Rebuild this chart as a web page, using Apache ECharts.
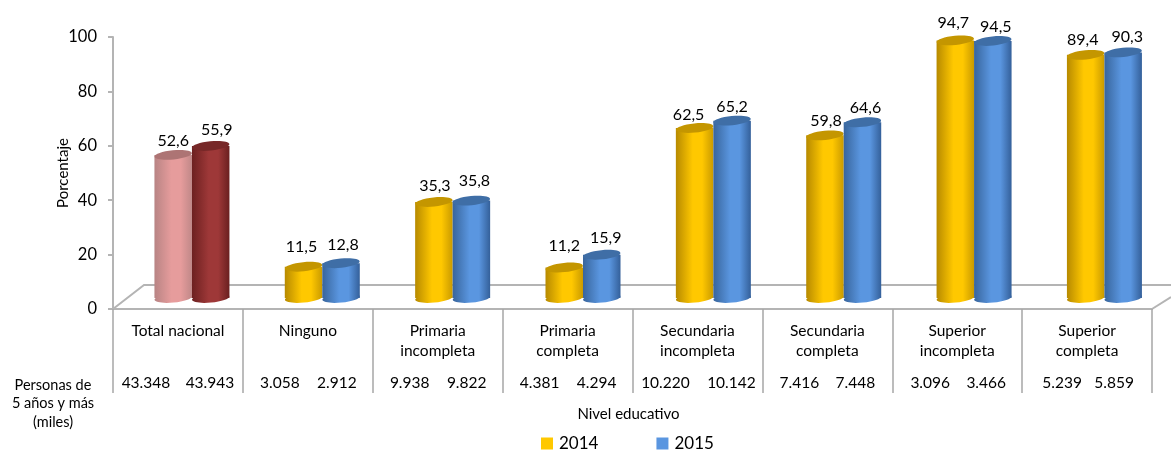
<!DOCTYPE html>
<html>
<head>
<meta charset="utf-8">
<style>html,body{margin:0;background:#fff}#chart{width:1171px;height:452px}</style>
<script src="https://cdn.jsdelivr.net/npm/echarts@6/dist/echarts.min.js"></script>
</head>
<body>
<div id="chart"></div>
<script>
const categories = ['Total nacional', 'Ninguno', 'Primaria\nincompleta', 'Primaria\ncompleta',
  'Secundaria\nincompleta', 'Secundaria\ncompleta', 'Superior\nincompleta', 'Superior\ncompleta'];
const pct2014 = [52.6, 11.5, 35.3, 11.2, 62.5, 59.8, 94.7, 89.4];
const pct2015 = [55.9, 12.8, 35.8, 15.9, 65.2, 64.6, 94.5, 90.3];
const personas2014 = ['43.348', '3.058', '9.938', '4.381', '10.220', '7.416', '3.096', '5.239'];
const personas2015 = ['43.943', '2.912', '9.822', '4.294', '10.142', '7.448', '3.466', '5.859'];

const FONT = 'Lato';
// Cylinder shading per bar: [edge left, centre, edge right, top cap]
const YELLOW = ['#b78a00', '#ffc800', '#c99a00', '#c49600'];
const BLUE = ['#38659c', '#5a96e0', '#34609a', '#3f6ea6'];
const PINK = ['#b88484', '#e69c9c', '#c08888', '#ad7474'];
const RED = ['#6c2020', '#9e3838', '#6a2020', '#772828'];

// Excel's 3D bars stand on the middle of the floor, not on the front axis line,
// and the perspective pushes them a bit further right along the axis.
const DEPTH_X = 14;
const DEPTH_X_STEP = 0.48;
const DEPTH_Y = -11;
const BAR_W = 37.5;

// The value labels were placed by hand in the original: [dx, dy] from the top of each bar.
const labelNudge2014 = [[0, -14], [-2, -20], [1, -16], [0, -22], [-6, -13], [1, -15], [-2, -18], [-3, -15]];
const labelNudge2015 = [[6, -16], [2, -18], [3, -20], [4, -17], [0, -14], [3, -14], [3, -14], [4, -16]];

function cylinderSeries(name, values, side, colors, firstColors, nudges) {
  return {
    name,
    type: 'custom',
    itemStyle: { color: colors[1] },
    encode: { x: 0, y: 1 },
    data: values.map((v, i) => [i, v]),
    clip: false,
    renderItem(params, api) {
      const i = api.value(0);
      const val = api.value(1);
      const [cx0, yTop0] = api.coord([i, val]);
      const yBase0 = api.coord([i, 0])[1];
      const cx = cx0 + DEPTH_X + DEPTH_X_STEP * i + side * BAR_W / 2;
      const yTop = yTop0 + DEPTH_Y;
      const yBase = yBase0 + DEPTH_Y;
      const c = i === 0 ? firstColors : colors;
      const grad = {
        type: 'linear', x: 0, y: 0, x2: 1, y2: 0,
        colorStops: [
          { offset: 0, color: c[0] }, { offset: 0.45, color: c[1] },
          { offset: 0.7, color: c[1] }, { offset: 1, color: c[2] },
        ],
      };
      const tilt = 0.1;
      const ellipse = (y, fill) => ({
        type: 'ellipse',
        shape: { cx: 0, cy: 0, rx: BAR_W / 2, ry: 4.6 },
        x: cx, y, rotation: tilt,
        style: { fill },
      });
      return {
        type: 'group',
        children: [
          ellipse(yBase, grad),
          { type: 'rect', shape: { x: cx - BAR_W / 2, y: yTop, width: BAR_W, height: yBase - yTop }, style: { fill: grad } },
          ellipse(yTop, c[3]),
          {
            type: 'text',
            style: {
              text: val.toFixed(1).replace('.', ','),
              x: cx + nudges[i][0], y: yTop + nudges[i][1],
              align: 'center', verticalAlign: 'middle',
              font: '16px ' + FONT, fill: '#000',
            },
          },
        ],
      };
    },
  };
}

// Row of person counts under the category labels, 2014 left and 2015 right of the cell centre.
const personasLeft = [-32, -28, -28, -28, -32, -28, -27, -25];
const personasRight = [32, 29, 29, 29, 34, 28, 29, 27];
const personasSeries = {
  type: 'custom',
  data: categories.map((_, i) => [i, 0]),
  clip: false,
  silent: true,
  renderItem(params, api) {
    const i = api.value(0);
    const cx = api.coord([i, 0])[0];
    const label = (text, dx) => ({
      type: 'text',
      style: { text, x: cx + dx, y: 383, align: 'center', verticalAlign: 'middle', font: '15.5px ' + FONT, fill: '#000' },
    });
    return { type: 'group', children: [label(personas2014[i], personasLeft[i]), label(personas2015[i], personasRight[i])] };
  },
};

// Floor of the 3D plot: back edge and the two receding side edges.
const floorSeries = {
  type: 'custom',
  data: [[0, 0]],
  clip: false,
  silent: true,
  z: 1,
  renderItem(params) {
    const g = params.coordSys;
    const bottom = g.y + g.height;
    const right = g.x + g.width;
    const stroke = { stroke: '#b4b4b4', lineWidth: 2, fill: null };
    return {
      type: 'group',
      children: [
        { type: 'polyline', shape: { points: [[g.x, bottom], [g.x + 31, bottom - 24], [right + 19, bottom - 24]] }, style: stroke },
        { type: 'line', shape: { x1: right, y1: bottom, x2: right + 19, y2: bottom - 12 }, style: stroke },
      ],
    };
  },
};

const chart = echarts.init(document.getElementById('chart'), null, { renderer: 'canvas' });
chart.setOption({
  animation: false,
  textStyle: { fontFamily: FONT, color: '#000' },
  grid: { left: 113, right: 19, top: 37, bottom: 143 },
  legend: {
    data: ['2014', '2015'],
    left: 541, top: 435, padding: 0,
    icon: 'rect', itemWidth: 12, itemHeight: 12, itemGap: 58,
    textStyle: { fontSize: 17, fontFamily: FONT, color: '#000', padding: [0, 0, 0, 1] },
  },
  xAxis: {
    type: 'category',
    data: categories,
    name: 'Nivel educativo',
    nameLocation: 'middle',
    nameGap: 98,
    nameMoveOverlap: false,
    nameTextStyle: { fontSize: 15, color: '#000', fontFamily: FONT, padding: [0, 8, 0, 0] },
    axisLine: { lineStyle: { color: '#b4b4b4', width: 2 } },
    axisTick: { show: true, inside: false, length: 84, lineStyle: { color: '#a6a6a6', width: 1.5 } },
    axisLabel: { margin: 12, fontSize: 15.5, lineHeight: 20, color: '#000', fontFamily: FONT, interval: 0 },
    splitLine: { show: false },
    z: 2,
  },
  yAxis: {
    type: 'value',
    min: 0, max: 100, interval: 20,
    name: 'Porcentaje',
    nameLocation: 'middle',
    nameGap: 42,
    nameMoveOverlap: false,
    nameTextStyle: { fontSize: 15, color: '#000', fontFamily: FONT },
    axisLine: { show: true, lineStyle: { color: '#b4b4b4', width: 2 } },
    axisTick: { show: true, length: 5, lineStyle: { color: '#b4b4b4', width: 2 } },
    axisLabel: { margin: 16, fontSize: 16.5, color: '#000', fontFamily: FONT },
    splitLine: { show: false },
  },
  graphic: [{
    type: 'text', x: 53, y: 403.5,
    style: {
      text: 'Personas de\n5 años y más\n(miles)',
      align: 'center', verticalAlign: 'middle', lineHeight: 18.5,
      font: '14.5px ' + FONT, fill: '#000',
    },
  }],
  series: [
    floorSeries,
    cylinderSeries('2014', pct2014, -1, YELLOW, PINK, labelNudge2014),
    cylinderSeries('2015', pct2015, 1, BLUE, RED, labelNudge2015),
    personasSeries,
  ],
});
</script>
</body>
</html>
